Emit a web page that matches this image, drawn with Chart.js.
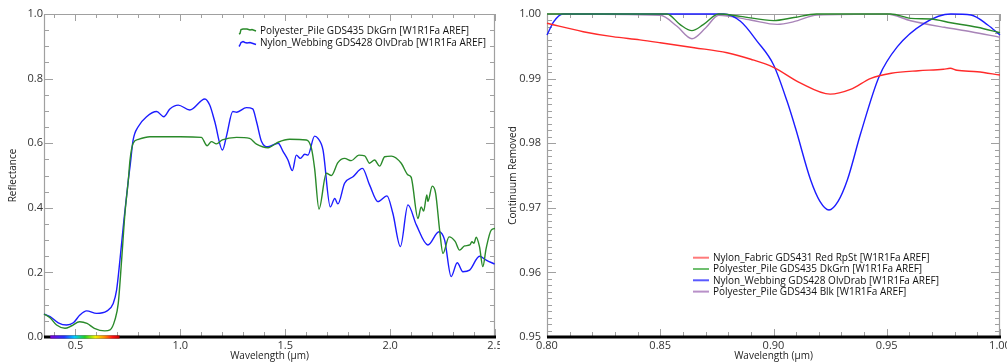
<!DOCTYPE html>
<html lang="en">
<head>
<meta charset="UTF-8" />
<title>Fabric Spectra</title>
<script src="https://cdn.jsdelivr.net/npm/chart.js"></script>
<style>
  body { margin: 0; background: #fff; }
  #leftBox { position: absolute; left: 0; top: 0; width: 500px; height: 364px; }
  #rightBox { position: absolute; left: 500px; top: 0; width: 507px; height: 364px; }
</style>
</head>
<body>
<div id="leftBox"><canvas id="reflChart" width="500" height="364"></canvas></div>
<div id="rightBox"><canvas id="crChart" width="507" height="364"></canvas></div>

<script>
  // ---- left panel: reflectance ----
  const pileGrnWave = [0.35, 0.38, 0.41, 0.45, 0.48, 0.52, 0.555, 0.59, 0.64, 0.665, 0.688, 0.704, 0.72, 0.736, 0.752, 0.76, 0.775, 0.8, 0.855, 1.0, 1.1, 1.128, 1.148, 1.172, 1.2, 1.268, 1.33, 1.363, 1.418, 1.466, 1.521, 1.601, 1.625, 1.64, 1.661, 1.696, 1.72, 1.751, 1.783, 1.815, 1.851, 1.879, 1.902, 1.926, 1.95, 1.974, 2.006, 2.053, 2.085, 2.1, 2.133, 2.148, 2.16, 2.175, 2.18, 2.201, 2.217, 2.236, 2.252, 2.281, 2.31, 2.331, 2.355, 2.38, 2.39, 2.4, 2.41, 2.426, 2.442, 2.458, 2.482, 2.5];
  const pileGrnRefl = [0.071, 0.059, 0.037, 0.027, 0.034, 0.047, 0.042, 0.027, 0.019, 0.022, 0.053, 0.104, 0.238, 0.383, 0.486, 0.548, 0.6, 0.612, 0.62, 0.62, 0.618, 0.592, 0.605, 0.598, 0.61, 0.618, 0.615, 0.597, 0.586, 0.603, 0.612, 0.61, 0.584, 0.522, 0.396, 0.507, 0.5, 0.54, 0.553, 0.546, 0.563, 0.561, 0.538, 0.548, 0.529, 0.558, 0.56, 0.538, 0.502, 0.495, 0.367, 0.403, 0.39, 0.44, 0.42, 0.467, 0.445, 0.331, 0.259, 0.31, 0.296, 0.269, 0.282, 0.285, 0.295, 0.29, 0.309, 0.28, 0.218, 0.275, 0.331, 0.336];

  const webOlvWave = [0.35, 0.379, 0.418, 0.458, 0.49, 0.521, 0.553, 0.601, 0.649, 0.68, 0.696, 0.712, 0.731, 0.752, 0.76, 0.775, 0.799, 0.839, 0.887, 0.921, 0.95, 0.99, 1.045, 1.117, 1.14, 1.164, 1.201, 1.221, 1.25, 1.269, 1.315, 1.345, 1.363, 1.387, 1.418, 1.466, 1.49, 1.513, 1.534, 1.553, 1.572, 1.593, 1.608, 1.64, 1.656, 1.68, 1.715, 1.736, 1.751, 1.783, 1.823, 1.868, 1.902, 1.942, 1.985, 2.013, 2.049, 2.085, 2.125, 2.18, 2.233, 2.26, 2.291, 2.32, 2.347, 2.379, 2.426, 2.458, 2.498];
  const webOlvRefl = [0.071, 0.063, 0.044, 0.037, 0.044, 0.068, 0.081, 0.073, 0.08, 0.104, 0.145, 0.238, 0.362, 0.486, 0.527, 0.61, 0.651, 0.682, 0.698, 0.682, 0.706, 0.718, 0.703, 0.737, 0.718, 0.667, 0.579, 0.625, 0.698, 0.696, 0.71, 0.706, 0.667, 0.605, 0.589, 0.6, 0.574, 0.548, 0.515, 0.563, 0.553, 0.566, 0.563, 0.622, 0.615, 0.579, 0.403, 0.429, 0.412, 0.476, 0.496, 0.522, 0.471, 0.419, 0.437, 0.383, 0.28, 0.409, 0.347, 0.285, 0.326, 0.3, 0.187, 0.23, 0.202, 0.207, 0.25, 0.238, 0.226];

  const reflXTicks = [0.5, 1.0, 1.5, 2.0, 2.5];
  const reflYTicks = [0.0, 0.2, 0.4, 0.6, 0.8, 1.0];

  // ---- right panel: continuum removed ----
  const fabRedWave = [0.80, 0.816, 0.829, 0.841, 0.85, 0.865, 0.8795, 0.89, 0.90, 0.912, 0.925, 0.934, 0.943, 0.952, 0.964, 0.975, 0.978, 0.981, 0.99, 1.0];
  const fabRedCR = [0.99856, 0.99726, 0.99649, 0.9960, 0.99556, 0.99478, 0.9940, 0.9930, 0.99175, 0.9893, 0.9876, 0.98834, 0.99005, 0.99082, 0.99122, 0.99144, 0.9916, 0.9913, 0.99107, 0.99056];

  const pileGrnCRWave = [0.80, 0.853, 0.8588, 0.864, 0.869, 0.8758, 0.8854, 0.90, 0.909, 0.919, 0.9518, 0.9606, 0.9695, 0.9783, 0.99, 1.0];
  const pileGrnCR = [1.0, 1.0, 0.99835, 0.99742, 0.99835, 1.0, 0.99964, 0.99898, 0.99945, 1.0, 1.0, 0.99933, 0.99923, 0.99865, 0.99794, 0.9971];

  const webOlvCRWave = [0.80, 0.803, 0.807, 0.878, 0.8854, 0.8928, 0.90, 0.906, 0.9097, 0.9164, 0.9205, 0.9245, 0.9285, 0.9326, 0.9385, 0.9466, 0.9547, 0.9665, 0.9783, 0.9872, 0.9946, 1.0];
  const webOlvCR = [0.99675, 0.99881, 1.0, 1.0, 0.99887, 0.99577, 0.99215, 0.98648, 0.98235, 0.9743, 0.9710, 0.96966, 0.9710, 0.9743, 0.98153, 0.9903, 0.99494, 0.99856, 1.0, 0.99985, 0.9983, 0.99675];

  const pileBlkWave = [0.80, 0.85, 0.8574, 0.864, 0.870, 0.8758, 0.8898, 0.9016, 0.909, 0.9193, 0.950, 0.9606, 0.9754, 0.9872, 1.0];
  const pileBlkCR = [1.0, 0.9998, 0.9981, 0.99618, 0.99783, 0.9998, 0.99907, 0.9984, 0.99881, 0.99985, 1.0, 0.99896, 0.99794, 0.99726, 0.99639];

  const crXTicks = [0.80, 0.85, 0.90, 0.95, 1.00];
  const crYTicks = [0.95, 0.96, 0.97, 0.98, 0.99, 1.00];

  const FONT = "'Open Sans', sans-serif";
  const pts = (xs, ys) => xs.map((x, i) => ({ x: x, y: ys[i] }));

  // frame with inward ticks on all four sides, thick black x axis
  const framePlugin = {
    id: 'frame',
    beforeDatasetsDraw(chart, args, o) {
      const { ctx, chartArea: a, scales: { x, y } } = chart;
      const line = (x1, y1, x2, y2) => { ctx.beginPath(); ctx.moveTo(x1, y1); ctx.lineTo(x2, y2); ctx.stroke(); };
      ctx.save();
      ctx.strokeStyle = '#a0a0a0';
      ctx.lineWidth = 1.2;
      line(a.left + 0.5, a.bottom, a.left + 0.5, a.top + 0.5);
      line(a.left, a.top + 0.5, a.right, a.top + 0.5);
      line(a.right - 0.5, a.top, a.right - 0.5, a.bottom);
      ctx.lineWidth = 1;
      for (let i = Math.ceil(x.min / o.xMinor - 1e-6); i * o.xMinor <= x.max + 1e-9; i++) {
        const v = i * o.xMinor;
        const major = Math.abs(v / o.xMajor - Math.round(v / o.xMajor)) < 1e-6;
        const p = Math.round(x.getPixelForValue(v)) + 0.5;
        const len = major ? 8 : 5;
        line(p, a.bottom, p, a.bottom - len);
        line(p, a.top, p, a.top + len - 1);
      }
      for (let i = Math.ceil(y.min / o.yMinor - 1e-6); i * o.yMinor <= y.max + 1e-9; i++) {
        const v = i * o.yMinor;
        const major = Math.abs(v / o.yMajor - Math.round(v / o.yMajor)) < 1e-6;
        const p = Math.round(y.getPixelForValue(v)) + 0.5;
        const len = major ? 9 : 5;
        line(a.left, p, a.left + len, p);
        line(a.right, p, a.right - len, p);
      }
      ctx.strokeStyle = '#000';
      ctx.lineWidth = 3;
      line(a.left, a.bottom, a.right + 1, a.bottom);
      if (o.rainbow) {
        const x0 = x.getPixelForValue(o.rainbow[0]);
        const x1 = x.getPixelForValue(o.rainbow[1]);
        const g = ctx.createLinearGradient(x0, 0, x1, 0);
        g.addColorStop(0.0, '#7a00d0');
        g.addColorStop(0.2, '#2030ff');
        g.addColorStop(0.35, '#00c8ff');
        g.addColorStop(0.5, '#20d020');
        g.addColorStop(0.65, '#f0f000');
        g.addColorStop(0.78, '#ff9000');
        g.addColorStop(0.9, '#ff1010');
        g.addColorStop(1.0, '#c00000');
        ctx.strokeStyle = g;
        line(x0, a.bottom, x1, a.bottom);
      }
      ctx.restore();
    }
  };

  // legend drawn inside the plot
  const boxLegend = {
    id: 'boxLegend',
    afterDatasetsDraw(chart, args, o) {
      const { ctx } = chart;
      ctx.save();
      ctx.font = '10px ' + FONT;
      ctx.textBaseline = 'middle';
      ctx.textAlign = 'left';
      chart.data.datasets.forEach((ds, i) => {
        const yy = o.y + i * o.rowH;
        ctx.strokeStyle = o.iconColors ? o.iconColors[i] : ds.borderColor;
        ctx.lineWidth = o.iconWidth;
        ctx.beginPath();
        if (o.icons) {
          o.icons[i].forEach(([dx, dy], k) => {
            if (k === 0) ctx.moveTo(o.x + dx, yy + dy); else ctx.lineTo(o.x + dx, yy + dy);
          });
        } else {
          ctx.moveTo(o.x, yy); ctx.lineTo(o.x + o.iconW, yy);
        }
        ctx.stroke();
        ctx.fillStyle = '#111';
        ctx.fillText(ds.label, o.x + o.iconW + 4, yy + 0.5);
      });
      ctx.restore();
    }
  };

  function scaleSet(xr, yr, xTicks, yTicks, digits, yW, yPad, yTitle) {
    const tickFont = { family: FONT, size: 11 };
    const titleFont = { family: FONT, size: 10 };
    return {
      x: {
        type: 'linear', min: xr[0], max: xr[1],
        grid: { display: false, drawTicks: false },
        border: { display: false },
        ticks: { autoSkip: false, maxRotation: 0, padding: 2, color: '#333', font: tickFont,
                 callback: v => Number(v).toFixed(digits) },
        afterBuildTicks: s => { s.ticks = xTicks.map(v => ({ value: v })); },
        afterFit: s => { s.height = 27; s.paddingLeft = 0; s.paddingRight = 0; },
        title: { display: true, text: 'Wavelength (µm)', color: '#222', font: titleFont, padding: { top: 0, bottom: 2 } }
      },
      y: {
        type: 'linear', min: yr[0], max: yr[1],
        grid: { display: false, drawTicks: false },
        border: { display: false },
        ticks: { autoSkip: false, padding: yPad, color: '#333', font: tickFont,
                 callback: v => Number(v).toFixed(digits) },
        afterBuildTicks: s => { s.ticks = yTicks.map(v => ({ value: v })); },
        afterFit: s => { s.width = yW; s.paddingTop = 0; s.paddingBottom = 0; },
        title: { display: true, text: yTitle, color: '#222', font: titleFont, padding: { top: 7, bottom: 0 } }
      }
    };
  }

  const lineDs = (label, data, color) => ({
    label: label, data: data, borderColor: color, backgroundColor: color,
    borderWidth: 1.4, pointRadius: 0, fill: false, clip: 3,
    cubicInterpolationMode: 'monotone'
  });

  new Chart(document.getElementById('reflChart'), {
    type: 'line',
    data: {
      datasets: [
        lineDs('Polyester_Pile GDS435 DkGrn [W1R1Fa AREF]', pts(pileGrnWave, pileGrnRefl), '#2a8a2a'),
        lineDs('Nylon_Webbing GDS428 OlvDrab [W1R1Fa AREF]', pts(webOlvWave, webOlvRefl), '#1c1cff')
      ]
    },
    options: {
      responsive: false, animation: false, parsing: true,
      layout: { padding: { top: 14, right: 5, left: 0, bottom: 0 } },
      scales: scaleSet([0.35, 2.5], [0, 1], reflXTicks, reflYTicks, 1, 44, 1, 'Reflectance'),
      plugins: {
        legend: { display: false }, tooltip: { enabled: false },
        frame: { xMinor: 0.1, xMajor: 0.5, yMinor: 0.05, yMajor: 0.2, rainbow: [0.38, 0.71] },
        boxLegend: {
          x: 239, y: 30.5, rowH: 12.5, iconW: 17, iconWidth: 1.4,
          icons: [
            [[0, 3.5], [1, 3], [2, -1], [4, -1.5], [8, -1.5], [11, -0.5], [13, -1], [17, 0.5]],
            [[0, 3.5], [1, 2], [2, -0.5], [4, -1.5], [6, -0.5], [8, 0], [11, -0.5], [14, 0.5], [17, 1.5]]
          ]
        }
      }
    },
    plugins: [framePlugin, boxLegend]
  });

  new Chart(document.getElementById('crChart'), {
    type: 'line',
    data: {
      datasets: [
        lineDs('Nylon_Fabric GDS431 Red RpSt [W1R1Fa AREF]', pts(fabRedWave, fabRedCR), '#ff2a2a'),
        lineDs('Polyester_Pile GDS435 DkGrn [W1R1Fa AREF]', pts(pileGrnCRWave, pileGrnCR), '#2a8a2a'),
        lineDs('Nylon_Webbing GDS428 OlvDrab [W1R1Fa AREF]', pts(webOlvCRWave, webOlvCR), '#1c1cff'),
        lineDs('Polyester_Pile GDS434 Blk [W1R1Fa AREF]', pts(pileBlkWave, pileBlkCR), '#a884b8')
      ]
    },
    options: {
      responsive: false, animation: false,
      layout: { padding: { top: 14, right: 7, left: 0, bottom: 0 } },
      scales: scaleSet([0.8, 1.0], [0.95, 1.0], crXTicks, crYTicks, 2, 47, 6, 'Continuum Removed'),
      plugins: {
        legend: { display: false }, tooltip: { enabled: false },
        frame: { xMinor: 0.01, xMajor: 0.05, yMinor: 0.001, yMajor: 0.01 },
        boxLegend: {
          x: 193, y: 257.7, rowH: 11.3, iconW: 16, iconWidth: 2,
          iconColors: ['#ff7a7a', '#6fbf6f', '#5a5aff', '#b890c8']
        }
      }
    },
    plugins: [framePlugin, boxLegend]
  });
</script>
</body>
</html>
